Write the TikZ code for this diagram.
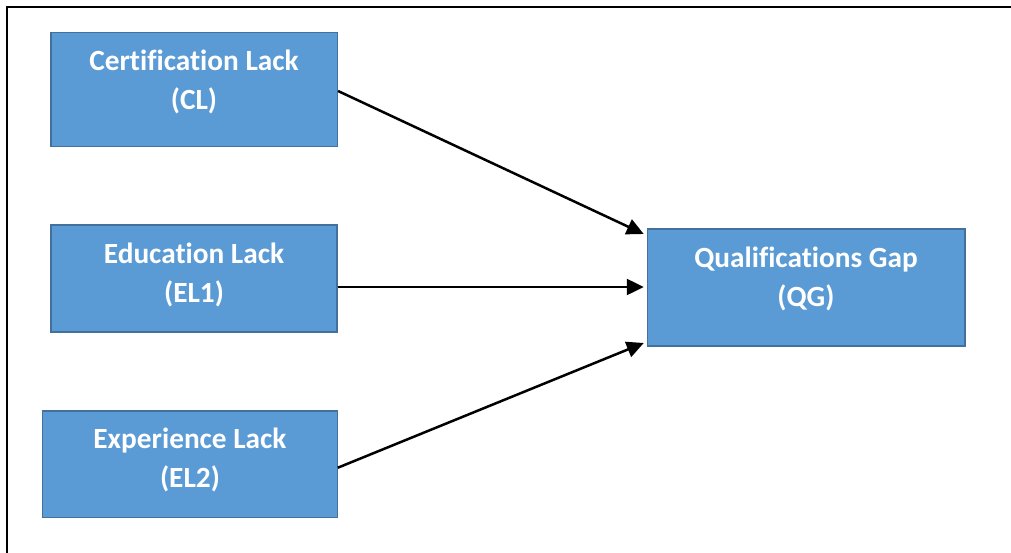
\documentclass[tikz,border=0pt]{standalone}
\usepackage{fontspec}
\setmainfont[Ligatures={NoCommon}]{Carlito}
\usetikzlibrary{arrows.meta,calc}
\definecolor{boxfill}{HTML}{5B9BD5}
\definecolor{boxline}{HTML}{41719C}
\tikzset{
  box/.style={draw=boxline, line width=1.2pt, fill=boxfill, rectangle, inner sep=0pt},
  lbl/.style={text=white, font=\bfseries\fontsize{29.3}{39}\selectfont, align=center, inner sep=0pt},
  conn/.style={line width=2.5pt, -{Triangle[length=17pt,width=16pt]}},
  frame/.style={line width=2.6pt, draw=black}
}
\begin{document}
\begin{tikzpicture}[x=1pt,y=-1pt]
\useasboundingbox (0,0) rectangle (1011,553);
\draw[frame] (1030,7) -- (7,7) -- (7,570);
% boxes
\node[box, minimum width=286.5pt, minimum height=114pt] (CL) at (194.2,89.7) {};
\node[box, minimum width=286pt, minimum height=107pt] (EL1) at (194,278.5) {};
\node[box, minimum width=294.5pt, minimum height=106.3pt] (EL2) at (190,464.2) {};
\node[box, minimum width=317.7pt, minimum height=117pt] (QG) at (806.2,287.5) {};
% labels
\node[lbl] (tCL) at (194,82) {Certification Lack\\(CL)};
\node[lbl] (tEL1) at (194,275) {Education Lack\\(EL1)};
\node[lbl] (tEL2) at (190,460) {Experience Lack\\(EL2)};
\node[lbl] (tQG) at (806,279) {Qualifications Gap\\(QG)};
% connector end points
\coordinate (s1) at ($(CL.east)+(0,1.3)$);
\coordinate (s2) at ($(EL1.east)+(0,8.5)$);
\coordinate (s3) at ($(EL2.east)+(0,3.5)$);
\coordinate (e1) at ($(QG.west)+(-3,-53.5)$);
\coordinate (e2) at ($(QG.west)+(-3,-0.5)$);
\coordinate (e3) at ($(QG.west)+(-3,55.5)$);
\draw[conn] (s1) -- (e1);
\draw[conn] (s2) -- (e2);
\draw[conn] (s3) -- (e3);
\end{tikzpicture}
\end{document}
